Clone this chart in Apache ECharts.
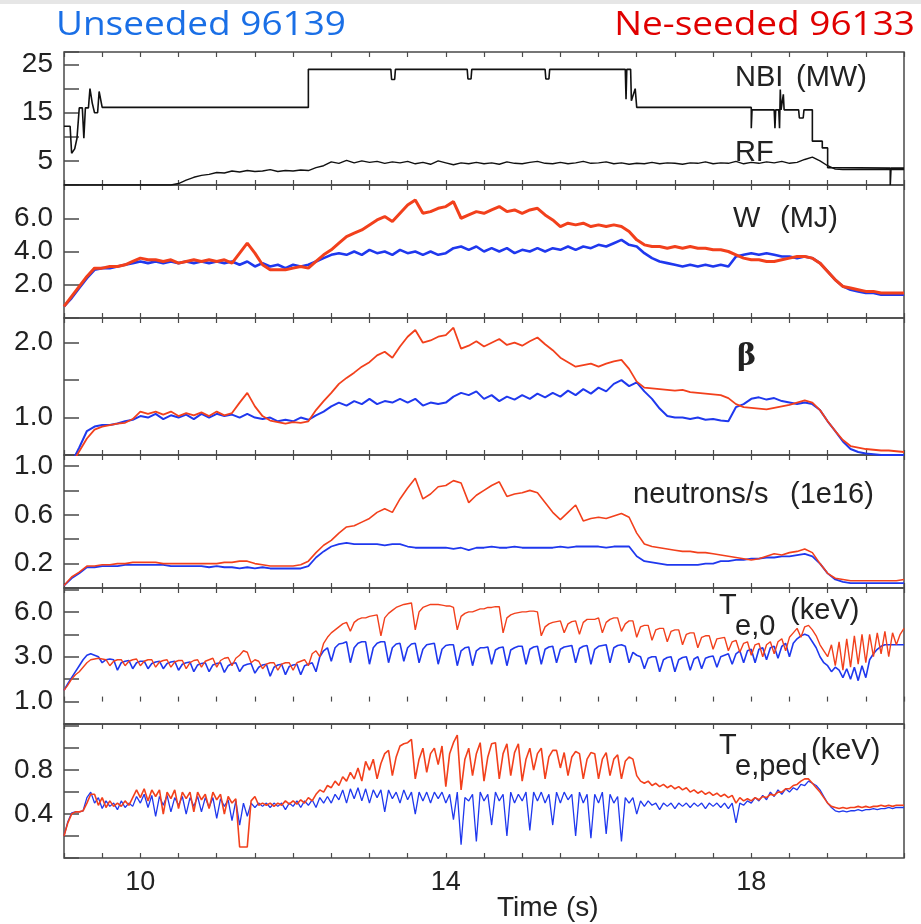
<!DOCTYPE html>
<html><head><meta charset="utf-8">
<script src="https://cdn.jsdelivr.net/npm/echarts@6/dist/echarts.min.js"></script>
<style>html,body{margin:0;padding:0;background:#fff}#c{width:921px;height:924px}</style>
</head><body><div id="c"></div>
<script>
// ---------- DATA ----------
const xTickLabels = [10, 14, 18];

// NBI (MW) step trace: times and values
const nbiTime = [9.0,9.08,9.1,9.14,9.17,9.2,9.24,9.26,9.28,9.32,9.34,9.37,9.4,9.44,9.46,9.48,9.5,12.2,12.2,13.28,13.29,13.33,13.34,14.28,14.29,14.33,14.34,15.3,15.31,15.35,15.36,16.35,16.36,16.37,16.42,16.43,16.48,16.5,18.0,18.0,18.01,18.3,18.31,18.32,18.36,18.37,18.38,18.39,18.42,18.43,18.62,18.63,18.68,18.69,18.8,18.8,18.93,18.93,19.0,19.0,19.82,19.82,19.83,20.0];
const nbiValue = [12.2,12.2,6.6,7.5,9.7,16,16,9.7,16,16,20,17,15,15,19.4,19.4,16.1,16.1,24,24,21.9,21.9,24,24,22,22,24,24,22,22,24,24,17.8,24,24,17.5,20,16.1,16.1,11.8,15.6,15.6,11.8,15.6,15.6,11.8,19.8,15.6,18.8,15.6,15.6,13.9,13.9,15.6,15.6,9.1,9.1,7.7,7.7,3.6,3.5,0,3.5,3.5];

// RF (MW), every 0.1 s from 9.0 to 20.0
const rfValue = [
0,0,0,0,0,0,0,0,0,0,
0,0,0,0,0,0.3,1.0,1.6,2.0,2.2,
2.6,2.5,2.9,2.7,3.0,2.8,2.9,3.2,2.8,3.0,
2.9,3.1,3.0,3.6,4.0,4.8,4.5,5.1,4.6,5.0,
4.7,4.9,4.5,4.8,4.6,4.9,4.4,4.7,4.3,5.0,
4.6,4.2,4.6,4.4,4.7,4.4,4.6,4.3,4.8,4.5,
4.4,4.7,4.9,4.5,4.4,4.7,4.4,4.6,4.9,4.5,
4.6,4.8,4.4,4.6,4.3,4.5,4.4,4.7,4.4,4.6,
4.5,4.3,4.6,4.5,4.8,4.4,4.6,4.5,4.9,4.4,
4.7,4.5,4.8,4.6,4.9,4.5,4.7,5.3,5.8,5.0,
4.0,3.3,3.2,3.2,3.2,3.2,3.2,3.2,3.2,3.2,3.2];

// W (MJ), every 0.1 s
const wUnseeded = [
0.7,1.2,1.8,2.4,2.9,3.0,3.0,3.1,3.2,3.3,
3.4,3.3,3.4,3.3,3.4,3.3,3.4,3.3,3.4,3.3,
3.4,3.3,3.4,3.2,3.4,3.1,3.3,3.1,3.2,3.0,
3.2,3.1,3.2,3.4,3.6,3.8,3.9,3.8,4.0,3.8,
4.1,3.9,4.0,3.8,4.1,3.9,4.0,3.8,4.0,3.8,
3.9,4.2,4.3,4.1,4.3,4.0,4.2,4.0,4.2,3.9,
4.1,4.0,4.2,4.0,4.2,4.1,4.3,4.1,4.3,4.2,
4.4,4.3,4.5,4.7,4.4,4.3,3.9,3.6,3.4,3.3,
3.2,3.1,3.2,3.1,3.2,3.1,3.2,3.1,3.7,3.8,
3.9,3.8,3.9,3.8,3.7,3.7,3.6,3.7,3.6,3.3,
2.8,2.3,1.9,1.7,1.6,1.5,1.5,1.4,1.4,1.4,1.4];
const wSeeded = [
0.7,1.3,1.9,2.5,3.0,3.0,3.1,3.1,3.2,3.4,
3.6,3.5,3.5,3.4,3.5,3.3,3.4,3.5,3.4,3.5,
3.4,3.5,3.3,3.9,4.5,3.9,3.2,2.9,2.9,2.9,
3.0,3.1,3.0,3.4,3.8,4.1,4.5,4.9,5.1,5.3,
5.6,5.9,6.1,5.8,6.3,6.8,7.1,6.3,6.4,6.6,
6.7,7.0,6.0,6.2,6.4,6.3,6.5,6.7,6.4,6.5,
6.3,6.5,6.6,6.2,5.9,5.5,5.7,5.6,5.7,5.5,
5.6,5.5,5.6,5.5,5.2,4.7,4.4,4.3,4.3,4.2,
4.3,4.2,4.3,4.2,4.2,4.1,4.1,4.0,3.8,3.6,
3.5,3.5,3.4,3.4,3.5,3.6,3.7,3.7,3.6,3.3,
2.8,2.3,1.9,1.8,1.7,1.6,1.6,1.5,1.5,1.5,1.5];

// beta, every 0.1 s
const betaUnseeded = [
0.3,0.4,0.6,0.82,0.88,0.9,0.9,0.92,0.95,0.97,
1.02,1.0,1.05,0.98,1.03,1.0,1.04,0.98,1.05,1.0,
1.05,1.02,1.04,1.0,1.05,1.0,0.98,1.0,0.95,0.97,
0.95,1.0,0.97,1.03,1.08,1.15,1.2,1.16,1.22,1.18,
1.25,1.18,1.22,1.2,1.25,1.2,1.25,1.16,1.2,1.18,
1.2,1.28,1.33,1.3,1.35,1.25,1.3,1.22,1.28,1.24,
1.3,1.25,1.32,1.27,1.33,1.28,1.36,1.3,1.38,1.32,
1.4,1.35,1.45,1.5,1.42,1.47,1.35,1.25,1.12,1.02,
1.0,1.0,0.98,1.0,0.97,0.98,0.96,0.95,1.14,1.18,
1.25,1.27,1.24,1.26,1.22,1.2,1.18,1.2,1.18,1.1,
0.95,0.82,0.68,0.58,0.54,0.52,0.51,0.5,0.5,0.5,0.5];
const betaSeeded = [
0.3,0.38,0.55,0.72,0.84,0.88,0.9,0.92,0.93,0.98,
1.08,1.05,1.08,1.04,1.08,1.02,1.06,1.03,1.07,1.02,
1.08,1.03,1.06,1.2,1.33,1.15,1.02,0.96,0.94,0.92,
0.94,0.93,0.95,1.1,1.22,1.33,1.45,1.53,1.6,1.68,
1.74,1.83,1.88,1.8,1.95,2.08,2.17,2.0,2.03,2.08,
2.1,2.2,1.92,1.96,2.02,1.95,2.0,2.05,1.97,2.0,
1.96,2.02,2.07,1.98,1.9,1.8,1.74,1.68,1.7,1.72,
1.68,1.72,1.75,1.77,1.65,1.48,1.4,1.39,1.38,1.37,
1.36,1.37,1.34,1.33,1.32,1.31,1.3,1.26,1.18,1.14,
1.13,1.12,1.11,1.13,1.15,1.17,1.2,1.23,1.2,1.1,
0.95,0.82,0.7,0.62,0.6,0.58,0.57,0.56,0.56,0.55,0.54];

// neutrons/s (1e16), every 0.1 s
const neutUnseeded = [
0.02,0.08,0.12,0.17,0.17,0.18,0.18,0.18,0.19,0.19,
0.19,0.19,0.19,0.19,0.18,0.18,0.18,0.18,0.18,0.17,
0.18,0.17,0.17,0.16,0.17,0.16,0.17,0.16,0.16,0.16,
0.16,0.16,0.18,0.25,0.3,0.34,0.36,0.37,0.36,0.36,
0.36,0.36,0.35,0.36,0.36,0.34,0.33,0.33,0.33,0.33,
0.33,0.32,0.33,0.31,0.33,0.33,0.34,0.33,0.33,0.34,
0.33,0.33,0.33,0.33,0.33,0.34,0.33,0.34,0.34,0.34,
0.34,0.33,0.34,0.34,0.34,0.26,0.22,0.21,0.2,0.19,
0.19,0.19,0.19,0.19,0.2,0.2,0.22,0.22,0.23,0.23,
0.24,0.24,0.25,0.25,0.26,0.26,0.27,0.28,0.26,0.2,
0.12,0.07,0.05,0.04,0.04,0.04,0.04,0.04,0.04,0.04,0.04];
const neutSeeded = [
0.02,0.09,0.13,0.18,0.18,0.19,0.19,0.2,0.2,0.21,
0.21,0.21,0.21,0.2,0.2,0.2,0.2,0.2,0.2,0.2,
0.2,0.21,0.21,0.22,0.22,0.2,0.19,0.18,0.18,0.18,
0.18,0.19,0.22,0.29,0.35,0.39,0.45,0.5,0.51,0.54,
0.57,0.62,0.65,0.62,0.73,0.82,0.9,0.73,0.77,0.83,
0.84,0.88,0.86,0.7,0.76,0.8,0.84,0.87,0.75,0.77,
0.78,0.8,0.78,0.7,0.62,0.56,0.62,0.68,0.55,0.57,
0.58,0.57,0.59,0.61,0.58,0.45,0.36,0.34,0.33,0.32,
0.31,0.3,0.3,0.29,0.29,0.28,0.27,0.26,0.25,0.24,
0.23,0.24,0.26,0.28,0.27,0.29,0.3,0.32,0.29,0.2,
0.12,0.08,0.07,0.06,0.06,0.06,0.06,0.06,0.06,0.06,0.07];

// Te,0 (keV), every 0.05 s
const te0Unseeded = [
0.75,1.2,1.6,2.0,2.4,2.8,3.1,3.2,3.1,3.0,
2.6,2.8,2.85,2.8,2.1,2.6,2.7,2.75,2.2,2.6,
2.7,2.7,2.2,2.55,2.65,2.7,2.2,2.55,2.65,2.7,
2.1,2.5,2.6,2.65,2.0,2.45,2.55,2.6,2.0,2.45,
2.55,2.6,1.95,2.4,2.55,2.6,2.0,2.4,2.5,2.55,
1.9,2.3,2.45,2.5,1.7,2.3,2.45,2.5,1.8,2.35,
2.45,2.5,1.8,2.4,2.5,2.6,2.0,3.0,3.4,3.6,
2.7,3.6,3.85,3.9,4.0,2.6,3.6,3.9,4.0,4.0,
2.5,3.6,3.9,4.0,4.0,2.6,3.6,3.85,3.9,2.7,
3.6,3.85,3.9,2.6,3.5,3.8,3.85,3.9,2.5,3.5,
3.75,3.8,3.8,2.4,3.4,3.6,3.65,2.4,3.4,3.6,
3.6,3.65,2.5,3.45,3.6,3.65,2.4,3.45,3.6,3.7,
3.7,2.5,3.5,3.65,3.7,2.5,3.5,3.65,3.7,2.6,
3.5,3.65,3.7,3.75,2.6,3.55,3.7,3.75,2.5,3.5,
3.7,3.75,3.8,2.6,3.6,3.75,3.8,3.7,2.6,3.3,
3.1,3.0,2.2,2.9,3.0,3.0,2.0,2.8,2.95,3.0,
2.0,2.8,2.95,3.0,2.1,2.85,3.0,2.2,2.9,3.0,
3.05,2.3,3.0,3.1,3.2,2.5,3.2,3.4,2.6,3.4,
3.5,2.6,3.5,3.6,2.8,3.6,3.7,2.9,3.7,3.9,
3.0,3.9,4.2,4.4,4.5,4.4,4.0,3.6,3.0,2.6,
2.4,2.0,2.3,2.1,1.6,2.2,1.5,2.3,1.4,2.4,
1.6,2.8,3.2,3.5,3.7,3.8,3.8,3.8,3.8,3.8,3.8];
const te0Seeded = [
0.75,1.1,1.5,1.8,2.0,2.3,2.6,2.8,2.85,2.9,
2.85,2.8,2.4,2.7,2.8,2.8,2.4,2.7,2.8,2.85,
2.4,2.7,2.8,2.8,2.3,2.65,2.75,2.8,2.3,2.65,
2.75,2.75,2.2,2.6,2.75,2.8,2.3,2.7,2.8,2.9,
2.3,2.75,2.9,2.95,2.4,2.9,3.1,3.4,3.3,2.6,
2.8,2.7,2.2,2.5,2.6,2.6,2.1,2.5,2.6,2.6,
2.1,2.6,2.7,2.8,2.4,3.2,3.4,3.0,3.9,4.3,
4.6,4.8,5.0,5.2,5.3,4.7,5.3,5.5,5.6,5.6,
5.7,5.75,5.8,4.4,5.6,5.9,6.1,6.3,6.4,6.5,
6.55,6.6,4.8,6.0,6.3,6.4,6.5,6.5,6.5,6.45,
6.4,6.4,6.3,4.8,5.7,5.9,6.0,6.0,6.1,6.2,
6.2,6.3,6.3,6.35,6.35,4.6,5.6,5.8,5.9,5.95,
6.0,6.0,6.05,6.05,6.0,4.4,5.0,5.2,5.3,5.35,
5.4,4.6,5.2,5.35,5.4,4.5,5.3,5.5,5.5,5.5,
5.6,4.6,5.3,5.5,5.6,5.6,4.7,5.2,5.4,5.4,
4.3,5.0,5.1,5.1,4.1,4.8,4.9,4.9,4.0,4.7,
4.8,4.8,3.8,4.5,4.6,4.6,3.6,4.3,4.4,4.4,
3.5,4.2,4.25,4.3,3.4,4.0,4.1,3.3,3.9,4.0,
3.1,3.8,3.9,3.0,3.8,4.0,3.2,4.0,4.2,3.4,
4.3,4.6,4.9,4.3,5.0,5.1,4.8,4.4,3.8,3.4,
3.0,3.8,2.4,4.0,2.1,4.2,2.3,4.4,2.5,4.5,
2.6,4.5,3.0,4.6,3.2,4.7,3.0,4.6,3.8,4.5,4.9];

// Te,ped (keV), every 0.05 s
const tepedUnseeded = [
0.2,0.33,0.41,0.42,0.42,0.43,0.55,0.6,0.5,0.55,
0.45,0.52,0.47,0.5,0.44,0.52,0.46,0.5,0.47,0.56,
0.5,0.58,0.46,0.57,0.38,0.56,0.48,0.57,0.42,0.55,
0.48,0.56,0.4,0.55,0.47,0.56,0.42,0.55,0.46,0.55,
0.36,0.54,0.47,0.53,0.34,0.52,0.3,0.5,0.38,0.5,
0.46,0.5,0.47,0.5,0.46,0.5,0.47,0.5,0.44,0.5,
0.47,0.52,0.46,0.52,0.48,0.53,0.46,0.55,0.5,0.56,
0.5,0.58,0.53,0.62,0.5,0.63,0.54,0.64,0.52,0.63,
0.5,0.62,0.55,0.62,0.42,0.62,0.54,0.6,0.5,0.62,
0.53,0.6,0.4,0.6,0.52,0.6,0.5,0.6,0.54,0.6,
0.5,0.58,0.35,0.6,0.12,0.55,0.52,0.58,0.15,0.6,
0.52,0.58,0.3,0.6,0.52,0.58,0.2,0.6,0.5,0.58,
0.52,0.6,0.25,0.6,0.52,0.6,0.5,0.58,0.3,0.6,
0.5,0.6,0.53,0.58,0.2,0.6,0.5,0.58,0.18,0.58,
0.5,0.6,0.22,0.58,0.5,0.56,0.15,0.55,0.5,0.55,
0.4,0.52,0.47,0.52,0.48,0.5,0.44,0.5,0.47,0.5,
0.45,0.5,0.47,0.5,0.46,0.5,0.47,0.5,0.45,0.5,
0.47,0.5,0.46,0.5,0.45,0.5,0.32,0.5,0.48,0.52,
0.5,0.55,0.52,0.57,0.53,0.6,0.56,0.62,0.58,0.63,
0.6,0.64,0.62,0.67,0.66,0.7,0.68,0.66,0.62,0.56,
0.5,0.46,0.43,0.42,0.43,0.42,0.43,0.43,0.44,0.43,
0.44,0.44,0.45,0.44,0.45,0.45,0.46,0.45,0.46,0.46,0.46];
const tepedSeeded = [
0.2,0.32,0.4,0.42,0.42,0.43,0.5,0.58,0.58,0.48,
0.55,0.46,0.52,0.47,0.5,0.47,0.52,0.48,0.55,0.62,
0.55,0.63,0.52,0.62,0.56,0.62,0.4,0.6,0.54,0.62,
0.45,0.6,0.54,0.6,0.42,0.6,0.53,0.58,0.45,0.6,
0.53,0.58,0.4,0.56,0.5,0.54,0.1,0.1,0.1,0.52,
0.56,0.48,0.5,0.48,0.5,0.47,0.5,0.48,0.52,0.49,
0.52,0.49,0.53,0.5,0.55,0.52,0.58,0.62,0.6,0.66,
0.64,0.7,0.66,0.74,0.7,0.78,0.72,0.82,0.7,0.88,
0.8,0.9,0.72,0.86,0.95,0.98,0.75,0.92,1.02,1.04,
1.05,1.08,0.72,0.9,1.0,0.78,0.95,1.0,0.85,1.02,
0.65,0.95,1.05,1.12,0.62,0.9,1.0,0.75,0.95,1.05,
0.7,0.92,1.04,1.05,0.72,0.95,1.04,0.75,0.96,1.04,
0.7,0.9,1.0,0.8,0.95,1.0,0.72,0.92,0.98,0.98,
0.82,0.96,0.75,0.92,0.97,0.95,0.72,0.9,0.96,0.95,
0.72,0.9,0.96,0.75,0.9,0.94,0.72,0.88,0.92,0.9,
0.75,0.7,0.68,0.7,0.66,0.68,0.65,0.67,0.64,0.66,
0.63,0.65,0.62,0.64,0.6,0.62,0.59,0.61,0.58,0.6,
0.57,0.59,0.56,0.58,0.55,0.57,0.5,0.55,0.52,0.54,
0.52,0.55,0.53,0.56,0.55,0.58,0.57,0.6,0.6,0.63,
0.63,0.66,0.67,0.7,0.72,0.72,0.68,0.64,0.6,0.55,
0.5,0.47,0.46,0.45,0.46,0.45,0.46,0.46,0.47,0.46,
0.47,0.46,0.47,0.47,0.48,0.47,0.48,0.47,0.48,0.48,0.48];

// y-axis tick labels per panel (value -> shown text)
const yLabelValues = [[25,15,5],[6,4,2],[2,1],[1,0.6,0.2],[6,3,0],[0.8,0.4]];
const yLabelTexts  = [['25','15','5'],['6.0','4.0','2.0'],['2.0','1.0'],['1.0','0.6','0.2'],['6.0','3.0','1.0'],['0.8','0.4']];

// ---------- CHART ----------
const BLUE = '#1f38ee', RED = '#f2401c', INK = '#222';
function timeGrid(start, step, n){ const t=[]; for(let i=0;i<n;i++) t.push(+(start+i*step).toFixed(3)); return t; }
function pairs(times, vals){ return vals.map((v,i)=>[times[i], v]); }
const t01 = timeGrid(9, 0.1, 111), t005 = timeGrid(9, 0.05, 221);

const panels = [
  {top:52, height:133, min:0, max:27.6, interval:5},
  {top:185, height:133, min:0, max:8, interval:2},
  {top:318, height:137, min:0.5, max:2.33, interval:0.5},
  {top:455, height:133, min:0, max:1.09, interval:0.2},
  {top:588, height:136, min:-1.5, max:7.6, interval:1.5},
  {top:724, height:134, min:0, max:1.22, interval:0.2}
];
const grids=[], xAxes=[], yAxes=[];
panels.forEach((p,i)=>{
  grids.push({left:64, right:17, top:p.top, height:p.height, show:true, borderColor:'#4a4a4a', borderWidth:1.5, backgroundColor:'rgba(0,0,0,0)'});
  const common = {gridIndex:i, type:'value', min:9, max:20, interval:0.5,
    axisLine:{show:false}, splitLine:{show:false},
    axisTick:{show:true, inside:true, length:5, lineStyle:{color:'#4a4a4a', width:1.2}}};
  xAxes.push(Object.assign({}, common, {position:'bottom',
    axisLabel:{show:i===5, fontSize:27, color:INK, margin:11, fontFamily:'Liberation Sans',
      formatter:v=>xTickLabels.some(x=>Math.abs(x-v)<1e-6)?String(Math.round(v)):''}}));
  xAxes.push(Object.assign({}, common, {position:'top', axisLabel:{show:false}}));
  yAxes.push({gridIndex:i, type:'value', min:p.min, max:p.max, interval:p.interval,
    axisLine:{show:false}, splitLine:{show:false},
    axisTick:{show:true, inside:true, length:15, lineStyle:{color:'#4a4a4a', width:1.5}},
    axisLabel:{fontSize:28, color:INK, margin:11, fontFamily:'Liberation Sans', padding:[0,0,8,0],
      formatter:v=>{const k=yLabelValues[i].findIndex(x=>Math.abs(x-v)<1e-6); return k>=0?yLabelTexts[i][k]:'';}}});
});

function line(data, g, color, width){
  return {type:'line', data, xAxisIndex:g*2, yAxisIndex:g, showSymbol:false, symbol:'none',
    lineStyle:{color, width}, itemStyle:{color}, animation:false, silent:true, clip:true};
}
const series = [
  line(pairs(nbiTime, nbiValue), 0, '#111', 1.6),
  line(pairs(t01, rfValue), 0, '#111', 1.4),
  line(pairs(t01, wUnseeded), 1, BLUE, 2.6),
  line(pairs(t01, wSeeded), 1, RED, 3),
  line(pairs(t01, betaUnseeded), 2, BLUE, 2),
  line(pairs(t01, betaSeeded), 2, RED, 1.8),
  line(pairs(t01, neutUnseeded), 3, BLUE, 1.8),
  line(pairs(t01, neutSeeded), 3, RED, 1.6),
  line(pairs(t005, te0Unseeded), 4, BLUE, 1.6),
  line(pairs(t005, te0Seeded), 4, RED, 1.4),
  line(pairs(t005, tepedUnseeded), 5, BLUE, 1.3),
  line(pairs(t005, tepedSeeded), 5, RED, 1.6)
];

function txt(x, y, text, font, fill, opts){
  return Object.assign({type:'text', x, y, silent:true,
    style:Object.assign({text, font, fill, textVerticalAlign:'middle'}, (opts&&opts.style)||{})},
    (opts&&opts.el)||{});
}
const LBL = '29px "Liberation Sans"';
const graphic = [
  {type:'rect', shape:{x:0,y:0,width:921,height:4}, style:{fill:'#e6e6e6'}, silent:true},
  txt(56, 26, 'Unseeded 96139', '33px "Open Sans"', '#1a6fe6', {el:{scaleX:1.12}}),
  txt(915, 26, 'Ne-seeded 96133', '33px "Open Sans"', '#e00000', {el:{scaleX:1.12}, style:{textAlign:'right'}}),
  txt(735, 78, 'NBI', LBL, INK),
  txt(796, 78, '(MW)', LBL, INK),
  txt(735, 153, 'RF', LBL, INK),
  txt(733, 219, 'W', LBL, INK),
  txt(780, 219, '(MJ)', LBL, INK),
  txt(737, 357, 'β', 'bold 29px "DejaVu Serif"', INK),
  txt(633, 495, 'neutrons/s', LBL, INK),
  txt(790, 495, '(1e16)', LBL, INK),
  txt(719, 606, 'T', LBL, INK),
  txt(735, 627, 'e,0', LBL, INK),
  txt(790, 611, '(keV)', LBL, INK),
  txt(719, 746, 'T', LBL, INK),
  txt(735, 767, 'e,ped', LBL, INK),
  txt(811, 751, '(keV)', LBL, INK),
  txt(497, 908, 'Time (s)', '28px "Liberation Sans"', INK)
];

const chart = echarts.init(document.getElementById('c'), null, {renderer:'canvas'});
chart.setOption({animation:false, backgroundColor:'#fff', grid:grids, xAxis:xAxes, yAxis:yAxes, series, graphic});
</script></body></html>
